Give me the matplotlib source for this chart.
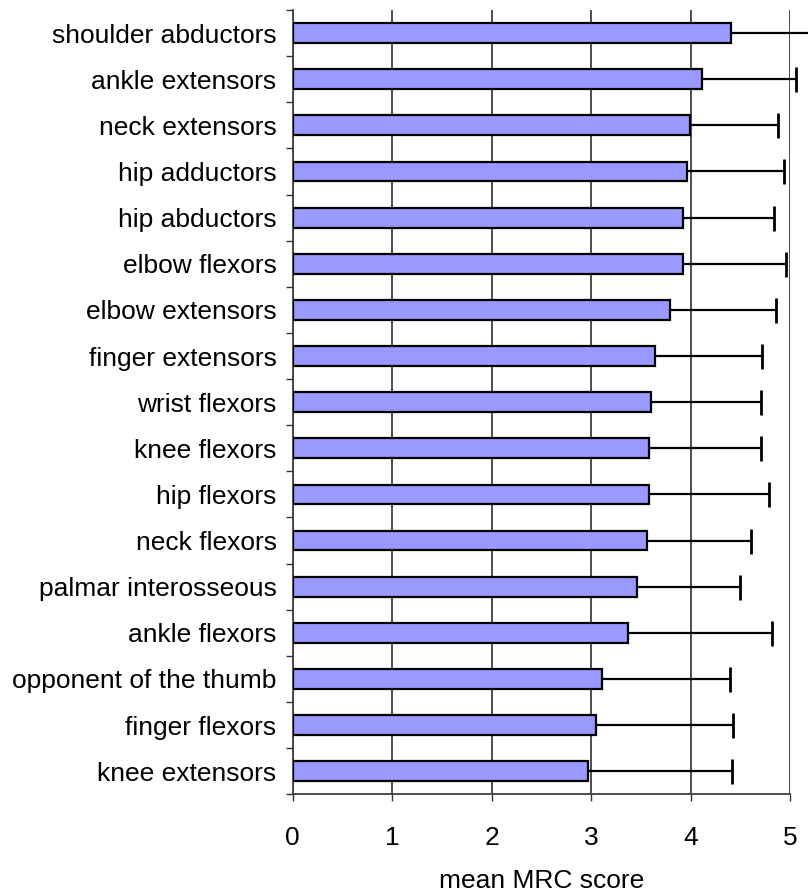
import numpy as np
import matplotlib.pyplot as plt

plt.rcParams['font.family'] = ['Liberation Sans', 'DejaVu Sans']

# Data (top to bottom)
muscles = ['shoulder abductors', 'ankle extensors', 'neck extensors', 'hip adductors',
           'hip abductors', 'elbow flexors', 'elbow extensors', 'finger extensors',
           'wrist flexors', 'knee flexors', 'hip flexors', 'neck flexors',
           'palmar interosseous', 'ankle flexors', 'opponent of the thumb',
           'finger flexors', 'knee extensors']
mean_mrc = [4.41, 4.12, 3.99, 3.96, 3.92, 3.92, 3.79, 3.64, 3.60, 3.58, 3.58, 3.56,
            3.46, 3.37, 3.11, 3.05, 2.97]
upper_err = [0.85, 0.94, 0.89, 0.98, 0.92, 1.04, 1.07, 1.08, 1.11, 1.13, 1.21, 1.05,
             1.04, 1.45, 1.29, 1.38, 1.45]
xticks = [0, 1, 2, 3, 4, 5]

fig = plt.figure(figsize=(8.08, 8.94), dpi=100)
ax = fig.add_axes([292.5 / 808, 99.7 / 894, (790 - 292.5) / 808, (884 - 99.7) / 894])

y = np.arange(len(muscles))
ax.barh(y, mean_mrc, height=0.43, color='#9999FF', edgecolor='black', linewidth=1.6, zorder=3)
eb = ax.errorbar(mean_mrc, y, xerr=[np.zeros(len(upper_err)), upper_err], fmt='none',
                 ecolor='black', elinewidth=1.6, capsize=9, capthick=2, zorder=4)
caps = eb.lines[1]
caps[0].set_visible(False)  # no cap at the bar end
caps[1].set_clip_on(False)
for art in eb.lines[2]:
    art.set_clip_on(False)

ax.set_xlim(0, 5)
ax.set_ylim(len(muscles) - 0.5, -0.5)
ax.set_xticks(xticks)
ax.set_xticklabels([str(t) for t in xticks], fontsize=19)
ax.set_yticks(y)
ax.set_yticklabels(muscles, fontsize=19)
ax.set_yticks(np.arange(-0.5, len(muscles), 1), minor=True)
ax.tick_params(axis='y', which='major', length=0, pad=11.5)
ax.tick_params(axis='y', which='minor', length=5, width=1, color='#333333', direction='out')
ax.tick_params(axis='x', which='major', length=5, width=1, color='#333333', pad=18)

ax.grid(axis='x', color='#404040', linewidth=1.3, zorder=0)
ax.set_axisbelow(True)
for s in ['top', 'right']:
    ax.spines[s].set_visible(False)
for s in ['left', 'bottom']:
    ax.spines[s].set_color('#404040')
    ax.spines[s].set_linewidth(1.3)

ax.set_xlabel('mean MRC score', fontsize=19, va='baseline')
ax.xaxis.set_label_coords(0.5, -0.1195)

fig.savefig('out.png', dpi=100)
